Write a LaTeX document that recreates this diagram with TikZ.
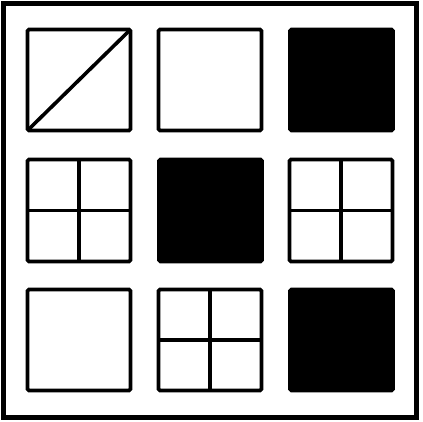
\documentclass[tikz,border=0pt]{standalone}
\begin{document}
\begin{tikzpicture}[x=1pt,y=-1pt,line width=3.6pt,
  cell/.style={draw=black,rounded corners=1.5pt},
  fullcell/.style={draw=black,fill=black,rounded corners=1.5pt},
  frame/.style={draw=black,line width=4.5pt}]
\useasboundingbox (0,0) rectangle (423,422);
\fill[white] (0,0) rectangle (423,422);
\draw[frame] (3.5,3.5) rectangle (416.5,417.5);
% row 1
\draw[cell] (27.5,29.5) rectangle (130.5,130.5);
\coordinate (d1) at (27.5,130.5);
\coordinate (d2) at (130.5,29.5);
\draw (d1) -- (d2);
\draw[cell] (158.5,29.5) rectangle (261.5,130.5);
\draw[fullcell] (290,29.5) rectangle (393,130.5);
% row 2
\draw[cell] (27.5,159.5) rectangle (130.5,261.5);
\draw (79,159.5) -- (79,261.5);
\draw (27.5,210.5) -- (130.5,210.5);
\draw[fullcell] (159,159.5) rectangle (262,261.5);
\draw[cell] (289.5,159.5) rectangle (392.5,261.5);
\draw (341,159.5) -- (341,261.5);
\draw (289.5,210.5) -- (392.5,210.5);
% row 3
\draw[cell] (27.5,289.5) rectangle (130.5,390.5);
\draw[cell] (158.5,289.5) rectangle (261.5,390.5);
\draw (210,289.5) -- (210,390.5);
\draw (158.5,340) -- (261.5,340);
\draw[fullcell] (290,289.5) rectangle (393,390.5);
\end{tikzpicture}
\end{document}
